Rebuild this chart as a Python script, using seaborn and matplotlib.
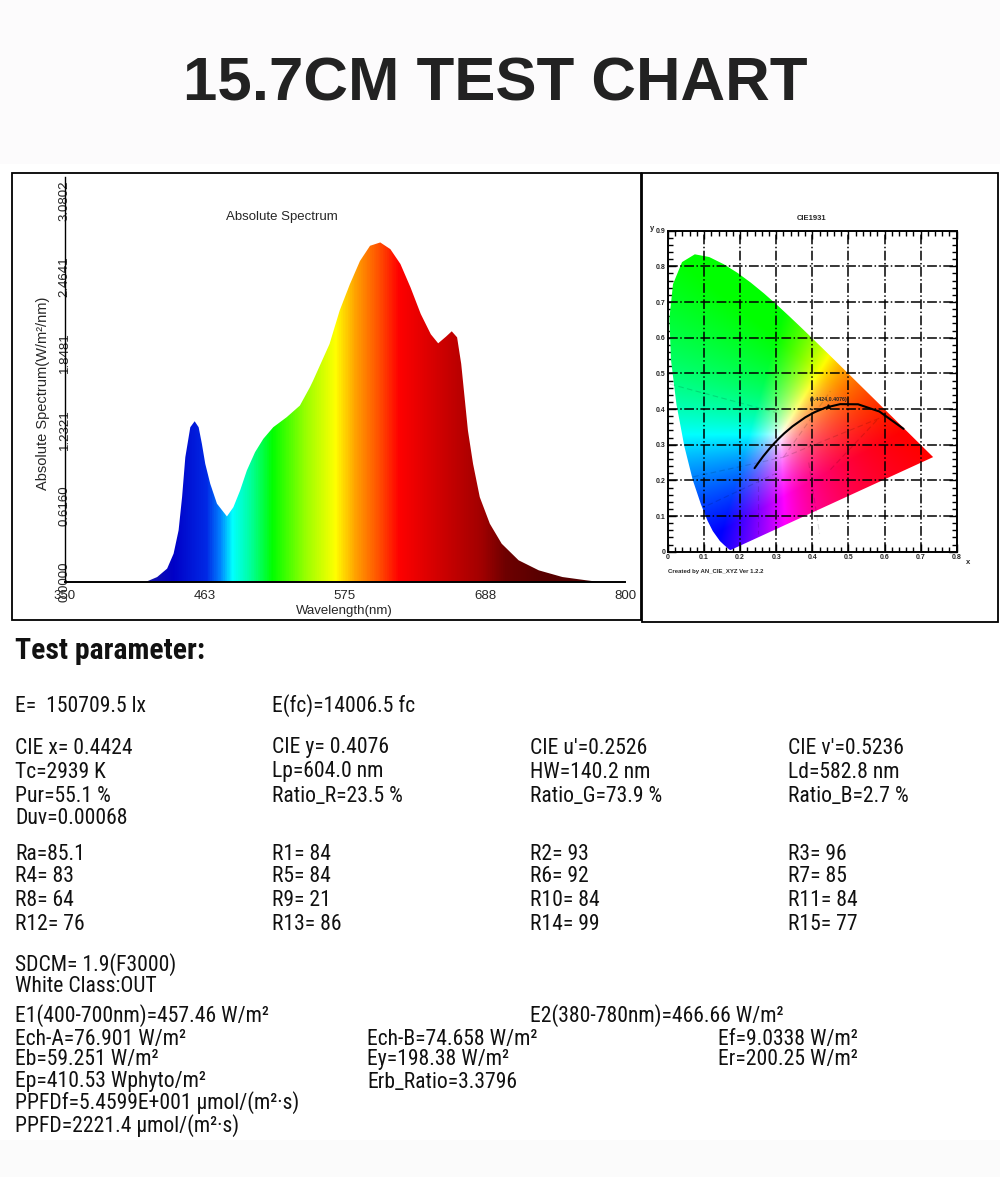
import numpy as np
import matplotlib
matplotlib.use("Agg")
import matplotlib.pyplot as plt
import seaborn as sns
import pandas as pd
from matplotlib.patches import Polygon, Rectangle
from matplotlib.colors import LinearSegmentedColormap
from matplotlib import font_manager as fm
from matplotlib.textpath import TextPath
from matplotlib.font_manager import FontProperties

# ---------------- data ----------------
title_text = "15.7CM TEST CHART"

wavelength_nm = [415.0, 424.4, 432.4, 437.6, 441.6, 444.4, 447.0, 451.0, 454.5, 457.7,
                 460.3, 463.0, 467.0, 472.4, 480.4, 485.6, 491.0, 496.4, 503.0, 509.6,
                 517.6, 528.4, 539.0, 547.0, 549.6, 562.8, 570.9, 579.0, 587.2, 595.3,
                 603.5, 611.6, 619.7, 627.8, 636.0, 644.1, 650.0, 656.3, 660.9, 665.2,
                 668.5, 671.2, 673.9, 678.0, 683.4, 691.5, 701.0, 714.6, 730.8, 749.8,
                 768.7, 779.6]
irradiance = [0.0, 0.04, 0.108, 0.229, 0.417, 0.685, 1.007, 1.249, 1.297, 1.249,
              1.115, 0.954, 0.793, 0.632, 0.529, 0.604, 0.739, 0.90, 1.048, 1.155,
              1.249, 1.33, 1.424, 1.571, 1.625, 1.921, 2.19, 2.40, 2.59, 2.713,
              2.74, 2.686, 2.566, 2.377, 2.163, 1.999, 1.926, 1.98, 2.023, 1.974,
              1.76, 1.491, 1.222, 0.954, 0.685, 0.47, 0.309, 0.175, 0.094, 0.04,
              0.014, 0.0]
x_ticks = [350, 463, 575, 688, 800]
y_ticks = [0.0, 0.6160, 1.2321, 1.8481, 2.4641, 3.0802]
y_tick_labels = ["0.0000", "0.6160", "1.2321", "1.8481", "2.4641", "3.0802"]

# CIE 1931 spectral locus (wavelength, x, y)
locus_nm = [380, 400, 420, 430, 440, 450, 460, 470, 475, 480, 485, 490, 495, 500, 505,
            510, 515, 520, 525, 530, 535, 540, 545, 550, 555, 560, 565, 570, 575, 580,
            585, 590, 595, 600, 605, 610, 620, 630, 640, 650, 660, 680, 700]
locus_x = [0.1741, 0.1733, 0.1714, 0.1689, 0.1644, 0.1566, 0.1440, 0.1241, 0.1096, 0.0913,
           0.0687, 0.0454, 0.0235, 0.0082, 0.0039, 0.0139, 0.0389, 0.0743, 0.1142, 0.1547,
           0.1929, 0.2296, 0.2658, 0.3016, 0.3373, 0.3731, 0.4087, 0.4441, 0.4788, 0.5125,
           0.5448, 0.5752, 0.6029, 0.6270, 0.6482, 0.6658, 0.6915, 0.7079, 0.7190, 0.7260,
           0.7300, 0.7334, 0.7347]
locus_y = [0.0050, 0.0048, 0.0051, 0.0069, 0.0109, 0.0177, 0.0297, 0.0578, 0.0868, 0.1327,
           0.2007, 0.2950, 0.4127, 0.5384, 0.6548, 0.7502, 0.8120, 0.8338, 0.8262, 0.8059,
           0.7816, 0.7543, 0.7243, 0.6923, 0.6589, 0.6245, 0.5896, 0.5547, 0.5202, 0.4866,
           0.4544, 0.4242, 0.3965, 0.3725, 0.3514, 0.3340, 0.3083, 0.2920, 0.2809, 0.2740,
           0.2700, 0.2666, 0.2653]

# Planckian locus (CCT K, x, y)
planck_cct = [1000, 1500, 2000, 2500, 3000, 3500, 4000, 5000, 6000, 7000, 8000, 10000, 15000, 25000, 100000]
planck_x = [0.6528, 0.5857, 0.5267, 0.4770, 0.4369, 0.4053, 0.3805, 0.3451, 0.3221, 0.3064,
            0.2952, 0.2807, 0.2637, 0.2526, 0.2399]
planck_y = [0.3444, 0.3931, 0.4133, 0.4137, 0.4041, 0.3907, 0.3768, 0.3516, 0.3318, 0.3166,
            0.3048, 0.2884, 0.2673, 0.2521, 0.2342]
measured_xy = (0.4424, 0.4076)
measured_label = "(0.4424,0.4076)"

cie_ticks = [0.0, 0.1, 0.2, 0.3, 0.4, 0.5, 0.6, 0.7, 0.8]
cie_x_labels = ["0", "0.1", "0.2", "0.3", "0.4", "0.5", "0.6", "0.7", "0.8"]
cie_y_ticks = [0.0, 0.1, 0.2, 0.3, 0.4, 0.5, 0.6, 0.7, 0.8, 0.9]
cie_y_labels = ["0", "0.1", "0.2", "0.3", "0.4", "0.5", "0.6", "0.7", "0.8", "0.9"]

row1 = ["E=  150709.5 lx", "E(fc)=14006.5 fc"]
row_cie = [["CIE x= 0.4424", "CIE y= 0.4076", "CIE u'=0.2526", "CIE v'=0.5236"],
           ["Tc=2939 K", "Lp=604.0 nm", "HW=140.2 nm", "Ld=582.8 nm"],
           ["Pur=55.1 %", "Ratio_R=23.5 %", "Ratio_G=73.9 %", "Ratio_B=2.7 %"],
           ["Duv=0.00068"]]
row_r = [["Ra=85.1", "R1= 84", "R2= 93", "R3= 96"],
         ["R4= 83", "R5= 84", "R6= 92", "R7= 85"],
         ["R8= 64", "R9= 21", "R10= 84", "R11= 84"],
         ["R12= 76", "R13= 86", "R14= 99", "R15= 77"]]
row_sdcm = ["SDCM= 1.9(F3000)", "White Class:OUT"]
row_e1 = ["E1(400-700nm)=457.46 W/m²", "E2(380-780nm)=466.66 W/m²"]
row_ech = [["Ech-A=76.901 W/m²", "Ech-B=74.658 W/m²", "Ef=9.0338 W/m²"],
           ["Eb=59.251 W/m²", "Ey=198.38 W/m²", "Er=200.25 W/m²"],
           ["Ep=410.53 Wphyto/m²", "Erb_Ratio=3.3796"]]
row_ppfd = ["PPFDf=5.4599E+001 μmol/(m²·s)", "PPFD=2221.4 μmol/(m²·s)"]

# ---------------- style ----------------
sns.set_theme(style="white")
names = {f.name for f in fm.fontManager.ttflist}
NARROW = "Liberation Sans"
for cand in ["Liberation Sans Narrow", "Arial Narrow", "Roboto Condensed", "Open Sans Condensed"]:
    if cand in names:
        NARROW = cand
        break
plt.rcParams["font.family"] = ["Liberation Sans", "DejaVu Sans"]


def width_px(s, family, size, weight="normal"):
    tp = TextPath((0, 0), s, size=size, prop=FontProperties(family=family, weight=weight))
    return tp.get_extents().width * 100 / 72


body_size = 16 * 134 / width_px("Ratio_R=23.5 %", NARROW, 16)
body_size = max(12.5, min(17, body_size)) * 0.96
head_size = 21 * 188 / width_px("Test parameter:", NARROW, 21, "bold")
head_size = max(16, min(22, head_size))

W, H = 1000, 1177
fig = plt.figure(figsize=(W / 100, H / 100), dpi=100)
fig.patch.set_facecolor("white")


def fx(px):
    return px / W


def fy(py):
    return 1 - py / H


# background bands
fig.patches.append(Rectangle((0, fy(164)), 1, 164 / H, transform=fig.transFigure,
                             facecolor="#fcfbfc", edgecolor="none", zorder=0))
fig.patches.append(Rectangle((0, 0), 1, (H - 1140) / H, transform=fig.transFigure,
                             facecolor="#fbfbfb", edgecolor="none", zorder=0))
fig.text(0.4955, fy(85), title_text, ha="center", va="center", fontsize=44.5,
         fontweight="bold", color="#222222", family=["Liberation Sans", "DejaVu Sans"])

# frames
fig.patches.append(Rectangle((fx(12), fy(620)), fx(641 - 12), (620 - 173) / H,
                             transform=fig.transFigure, fill=False, edgecolor="black", lw=1.3))
fig.patches.append(Rectangle((fx(642), fy(622)), fx(998 - 642), (622 - 173) / H,
                             transform=fig.transFigure, fill=False, edgecolor="black", lw=1.3))

# ---------------- spectrum ----------------
AX_L, AX_R, AX_B, AX_T = 64.5, 625.0, 582.0, 177.0
ax1 = fig.add_axes([fx(AX_L), fy(AX_B), fx(AX_R - AX_L), (AX_B - AX_T) / H])
ax1.set_xlim(350, 800)
ax1.set_ylim(0, 3.268)
stops = [(350, (0.05, 0.05, 0.60)), (417, (0.08, 0.08, 0.67)), (436, (0.0, 0.0, 0.78)),
         (463, (0.0, 0.16, 0.90)), (474, (0.0, 0.50, 1.0)), (484, (0.0, 1.0, 1.0)),
         (498, (0.0, 1.0, 0.63)), (516, (0.0, 1.0, 0.0)), (543, (0.6, 1.0, 0.0)),
         (567, (1.0, 1.0, 0.0)), (583, (1.0, 0.63, 0.0)), (602, (1.0, 0.31, 0.0)),
         (618, (1.0, 0.0, 0.0)), (650, (0.82, 0.0, 0.0)), (685, (0.63, 0.0, 0.0)),
         (704, (0.43, 0.0, 0.0)), (731, (0.35, 0.0, 0.0)), (800, (0.30, 0.02, 0.02))]
cmap = LinearSegmentedColormap.from_list("spec", [((w - 350) / 450, c) for w, c in stops])
grad = np.linspace(0, 1, 900)[None, :]
im = ax1.imshow(grad, cmap=cmap, aspect="auto", extent=[350, 800, 0, 3.268],
                origin="lower", zorder=1, interpolation="bilinear")
spec_df = pd.DataFrame({"wavelength": wavelength_nm, "value": irradiance})
verts = np.column_stack([list(spec_df["wavelength"]) + list(spec_df["wavelength"][::-1]),
                         list(spec_df["value"]) + [0] * len(spec_df)])
clip = Polygon(verts, closed=True, transform=ax1.transData, facecolor="none", edgecolor="none")
ax1.add_patch(clip)
im.set_clip_path(clip)

for s in ["top", "right"]:
    ax1.spines[s].set_visible(False)
ax1.spines["left"].set_color("black")
ax1.spines["left"].set_linewidth(1.0)
ax1.spines["bottom"].set_color("black")
ax1.spines["bottom"].set_linewidth(1.4)
ax1.set_xticks(x_ticks)
ax1.set_xticklabels([str(v) for v in x_ticks], fontsize=9.5)
ax1.set_yticks(y_ticks)
ax1.set_yticklabels(y_tick_labels, fontsize=9.5, rotation=90, va="center", ha="center")
ax1.tick_params(axis="x", direction="out", length=4, width=1, color="black", pad=2)
ax1.tick_params(axis="y", length=0, pad=0)
ax1.set_facecolor("white")
ax1.set_xlabel("Wavelength(nm)", fontsize=9.5, labelpad=2)
ax1.set_ylabel("")
fig.text(fx(43), fy(393), "Absolute Spectrum(W/m²/nm)", fontsize=10.5, rotation=90,
         ha="center", va="center")
ax1.text(0.388, (AX_B - 217) / (AX_B - AX_T), "Absolute Spectrum", transform=ax1.transAxes,
         fontsize=9.5, ha="center", va="center")

# ---------------- CIE 1931 ----------------
ax2 = fig.add_axes([fx(668), fy(551.7), fx(956.7 - 668), (551.7 - 230.7) / H])
ax2.set_xlim(0, 0.8)
ax2.set_ylim(0, 0.9)
nx, ny = 400, 450
gx, gy = np.meshgrid(np.linspace(0, 0.8, nx), np.linspace(0.0005, 0.9, ny))
Xc = gx / gy
Yc = np.ones_like(gx)
Zc = (1 - gx - gy) / gy
R = 3.2406 * Xc - 1.5372 * Yc - 0.4986 * Zc
G = -0.9689 * Xc + 1.8758 * Yc + 0.0415 * Zc
B = 0.0557 * Xc - 0.2040 * Yc + 1.0570 * Zc
rgb = np.clip(np.dstack([R, G, B]), 0, None)
rgb = rgb / np.maximum(rgb.max(axis=2, keepdims=True), 1e-9)
rgb = np.clip(rgb, 0, 1) ** 0.95
im2 = ax2.imshow(rgb, extent=[0, 0.8, 0, 0.9], origin="lower", aspect="auto",
                 interpolation="bilinear", zorder=1)
horseshoe = Polygon(np.column_stack([locus_x, locus_y]), closed=True,
                    transform=ax2.transData, facecolor="none", edgecolor="none")
ax2.add_patch(horseshoe)
im2.set_clip_path(horseshoe)

# faint dominant-wavelength guide lines inside the diagram
guide_lines = [([0.005, 0.30], [0.47, 0.39]), ([0.07, 0.32], [0.21, 0.265]),
               ([0.32, 0.45], [0.265, 0.45]), ([0.32, 0.60], [0.265, 0.38]),
               ([0.25, 0.25], [0.21, 0.05]), ([0.11, 0.30], [0.13, 0.22]),
               ([0.39, 0.42], [0.25, 0.05]), ([0.45, 0.58], [0.23, 0.37])]
for gxs, gys in guide_lines:
    ax2.plot(gxs, gys, ls=(0, (5, 3)), lw=0.8, color="black", alpha=0.14, zorder=2)

ax2.grid(False)
for v in cie_ticks[1:-1]:
    ax2.axvline(v, color="black", lw=1.1, ls="-.", zorder=3)
for v in cie_y_ticks[1:-1]:
    ax2.axhline(v, color="black", lw=1.1, ls="-.", zorder=3)

planck_df = pd.DataFrame({"x": planck_x, "y": planck_y, "cct": planck_cct})
sns.lineplot(data=planck_df, x="x", y="y", sort=False, color="black", lw=1.5, ax=ax2, zorder=4)
ax2.plot([measured_xy[0]], [measured_xy[1]], marker="^", ms=2.5, color="black", zorder=5)
ax2.text(measured_xy[0] + 0.002, measured_xy[1] + 0.02, measured_label, fontsize=3.8,
         fontweight="bold", ha="center", va="center", zorder=5)

ax2.set_xticks(cie_ticks)
ax2.set_xticks(np.arange(0, 0.81, 0.02), minor=True)
ax2.set_yticks(cie_y_ticks)
ax2.set_yticks(np.arange(0, 0.91, 0.02), minor=True)
ax2.set_xticklabels(cie_x_labels, fontsize=5, fontweight="bold")
ax2.set_yticklabels(cie_y_labels, fontsize=5, fontweight="bold")
ax2.tick_params(which="both", direction="in", top=True, right=True, color="black",
                bottom=True, left=True)
ax2.tick_params(which="major", length=6, width=1.0, pad=2)
ax2.tick_params(which="minor", length=3.5, width=1.0)
for s in ax2.spines.values():
    s.set_color("black")
    s.set_linewidth(1.4)
ax2.set_xlabel("")
ax2.set_ylabel("")
ax2.set_facecolor("white")
fig.text(fx(812), fy(218), "CIE1931", fontsize=5.5, fontweight="bold", ha="center", va="center")
fig.text(fx(652), fy(229), "y", fontsize=5.5, fontweight="bold", ha="center", va="center")
fig.text(fx(968), fy(563), "x", fontsize=5.5, fontweight="bold", ha="center", va="center")
fig.text(fx(668), fy(571), "Created by AN_CIE_XYZ Ver 1.2.2", fontsize=4.3,
         fontweight="bold", ha="left", va="center")

# ---------------- parameters ----------------
tf = dict(fontsize=body_size, family=[NARROW, "DejaVu Sans"], color="#111111",
          va="center", ha="left")
fig.text(fx(15), fy(651), "Test parameter:", fontsize=head_size, fontweight="bold",
         family=[NARROW, "DejaVu Sans"], color="#111111", va="center", ha="left")
cols4 = [15, 272, 530, 788]
fig.text(fx(cols4[0]), fy(706), row1[0], **tf)
fig.text(fx(cols4[1]), fy(706), row1[1], **tf)
for r, yy in zip(row_cie, [748, 772, 796, 819]):
    for t, cx in zip(r, cols4):
        fig.text(fx(cx), fy(yy), t, **tf)
for r, yy in zip(row_r, [854, 877, 901, 924]):
    for t, cx in zip(r, cols4):
        fig.text(fx(cx), fy(yy), t, **tf)
for t, yy in zip(row_sdcm, [965, 987]):
    fig.text(fx(15), fy(yy), t, **tf)
fig.text(fx(15), fy(1016), row_e1[0], **tf)
fig.text(fx(530), fy(1016), row_e1[1], **tf)
cols3 = [15, 367, 718]
for r, yy in zip(row_ech, [1039, 1060, 1082]):
    for t, cx in zip(r, cols3):
        fig.text(fx(cx), fy(yy), t, **tf)
for t, yy in zip(row_ppfd, [1103, 1126]):
    fig.text(fx(15), fy(yy), t, **tf)

fig.savefig("out.png", dpi=100, facecolor="white")
